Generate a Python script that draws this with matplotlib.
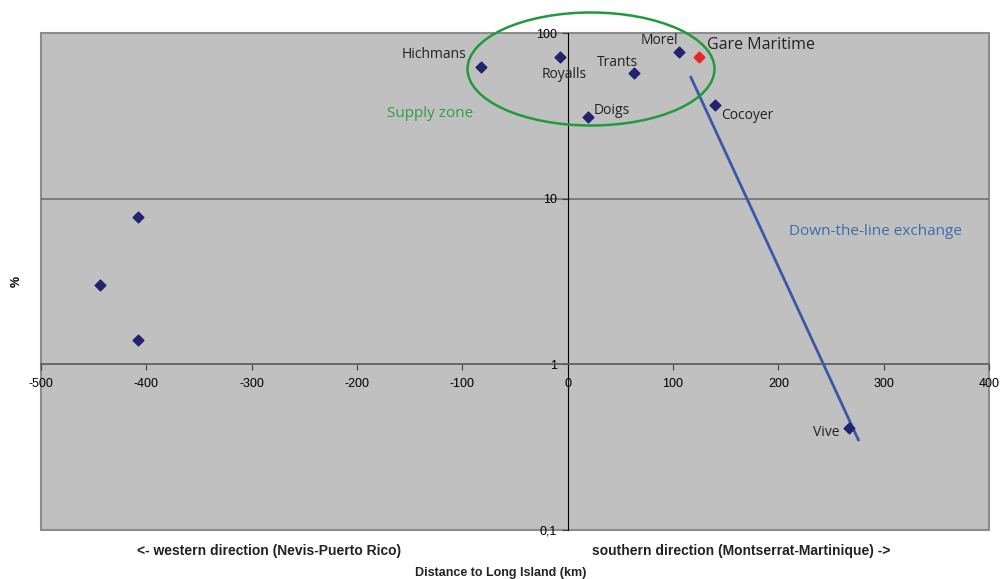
"""
Obsidian share (%) vs. distance to Long Island, log scale, Excel-like look.
"""
import numpy as np
import matplotlib; matplotlib.use("Agg"); import matplotlib.pyplot as plt
from matplotlib.patches import Ellipse, Rectangle

plt.rcParams['font.family'] = ['Liberation Sans', 'DejaVu Sans']

# named sites
SITES = ["Hichmans", "Royalls", "Trants", "Doigs", "Morel", "Cocoyer", "Vive"]
DIST = [-82, -7, 63, 19, 106, 140, 267]           # km
PCT = [62.0, 72.0, 57.0, 31.0, 77.0, 37.0, 0.41]  # %
# unnamed western sites
W_DIST = [-408, -444, -408]
W_PCT = [7.7, 3.0, 1.4]
# Gare Maritime (red)
GM_DIST = [125]; GM_PCT = [72.0]
# down-the-line trend
LINE_X = [117, 276]; LINE_Y = [54.0, 0.35]

XTICKS = [-500, -400, -300, -200, -100, 0, 100, 200, 300, 400]
YTICKS = [0.1, 1, 10, 100]; YLABELS = ["0,1", "1", "10", "100"]

# label offsets (pixels) and alignment
OFFS = {"Hichmans": (-15, 13, "right"), "Royalls": (-19, -18, "left"),
        "Trants": (-37, 11, "left"), "Doigs": (6, 7, "left"),
        "Morel": (-1, 11, "right"), "Cocoyer": (6, -11, "left"),
        "Vive": (-9, -4, "right")}

NAVY = "#22226e"; GRAY = "#c0c0c0"

fig = plt.figure(figsize=(10, 5.79), dpi=100)
ax = fig.add_axes([0.041, 1 - 530/579, 0.948, 497/579])
ax.set_facecolor(GRAY)
ax.set_yscale("log")
ax.set_xlim(-500, 400); ax.set_ylim(0.1, 100)

for s in ("top", "right"): ax.spines[s].set_visible(False)
ax.spines["left"].set_position(("data", 0)); ax.spines["left"].set_color("black")
ax.spines["bottom"].set_position(("data", 1)); ax.spines["bottom"].set_color("#606060")
ax.spines["bottom"].set_linewidth(1.3)
ax.add_patch(Rectangle((0, 0), 1, 1, transform=ax.transAxes, fill=False,
                       ec="#8c8c8c", lw=1.5, clip_on=False, zorder=0.5))
ax.axhline(10, color="#707070", lw=1.2, zorder=1)

ax.set_xticks(XTICKS); ax.set_xticklabels([str(v) for v in XTICKS])
ax.set_yticks(YTICKS); ax.set_yticklabels(YLABELS)
ax.yaxis.set_minor_locator(plt.NullLocator())
ax.tick_params(axis="both", labelsize=9, length=4, color="#404040")
ax.tick_params(axis="x", pad=6)
ax.set_ylabel("%", fontsize=9, fontweight="bold")
ax.yaxis.set_label_coords(-0.019, 0.5)

ax.plot(LINE_X, LINE_Y, color="#3b58a8", lw=2, zorder=2)
ax.scatter(DIST, PCT, marker="D", s=30, color=NAVY, zorder=3)
ax.scatter(W_DIST, W_PCT, marker="D", s=30, color=NAVY, zorder=3)
ax.scatter(GM_DIST, GM_PCT, marker="D", s=30, color="#e8262a", zorder=3)

for n, x, y in zip(SITES, DIST, PCT):
    dx, dy, ha = OFFS[n]
    ax.annotate(n, (x, y), xytext=(dx, dy), textcoords="offset pixels",
                ha=ha, va="center", fontsize=10, color="#222222", family="Open Sans")
ax.annotate("Gare Maritime", (GM_DIST[0], GM_PCT[0]), xytext=(8, 12),
            textcoords="offset pixels", ha="left", va="center", fontsize=11.5,
            color="#222222", family="Open Sans")

ax.text(0.410, 0.839, "Supply zone", transform=ax.transAxes, ha="center", va="center",
        fontsize=11, color="#2ea043", family="Open Sans")
ax.text(0.880, 0.600, "Down-the-line exchange", transform=ax.transAxes, ha="center",
        va="center", fontsize=11, color="#3a6eaa", family="Open Sans")

fig.add_artist(Ellipse((591/1000, 1 - 69/579), 247/1000, 113/579,
                       transform=fig.transFigure, fill=False, ec="#1f9a3c", lw=1.8))

fig.text(0.269, 1 - 551/579, "<- western direction (Nevis-Puerto Rico)", ha="center",
         va="center", fontsize=10, fontweight="bold", color="#222222")
fig.text(0.741, 1 - 551/579, "southern direction (Montserrat-Martinique) ->", ha="center",
         va="center", fontsize=10, fontweight="bold", color="#222222")
fig.text(0.501, 1 - 573/579, "Distance to Long Island (km)", ha="center", va="center",
         fontsize=9, fontweight="bold", color="#222222")

fig.savefig("out.png", dpi=100)
